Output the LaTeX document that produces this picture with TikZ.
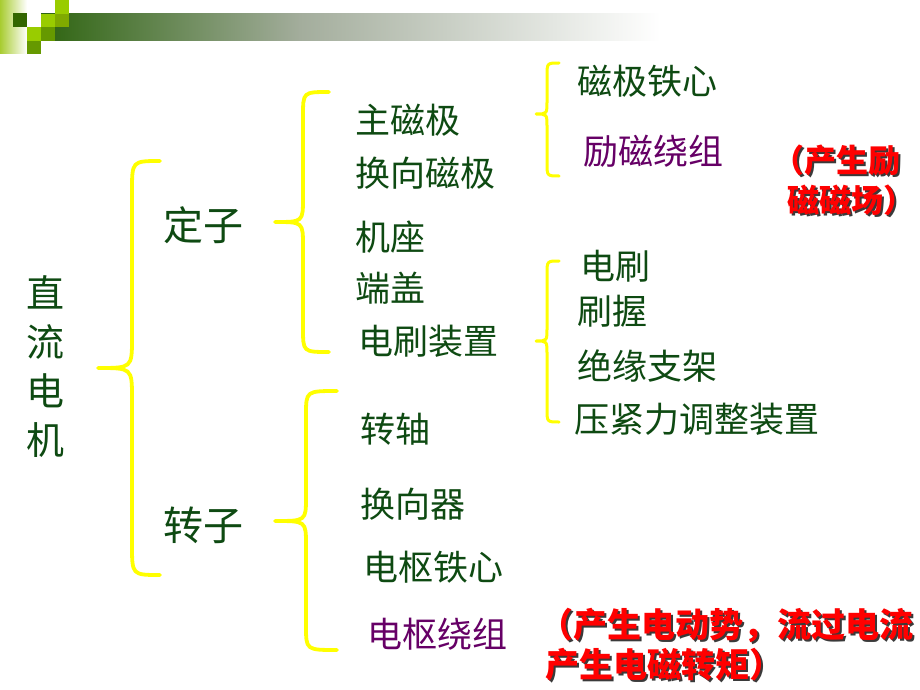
\documentclass[tikz,border=0pt]{standalone}
\usepackage{fontspec}
\setmainfont{Noto Sans CJK SC}
\definecolor{tgreen}{HTML}{0E4A12}
\definecolor{tpurple}{HTML}{660066}
\definecolor{tred}{HTML}{FF0000}
\definecolor{shadowc}{HTML}{3A3A3A}
\definecolor{braceyellow}{HTML}{FFFF00}
\definecolor{hdrA}{HTML}{2E6410}
\definecolor{hdrB}{HTML}{A3AD9C}
\definecolor{lgreen}{HTML}{A8CC30}
\definecolor{sqbright}{HTML}{99CC00}
\definecolor{sqolive}{HTML}{669900}
\definecolor{sqmid}{HTML}{80AA00}
\definecolor{sqdark}{HTML}{336600}
\newcommand{\shtext}[1]{\makebox[0pt][l]{\hspace{2pt}\raisebox{-2pt}{\textcolor{shadowc}{#1}}}\textcolor{tred}{#1}}
\newcommand{\ybrace}[8][brace]{\draw[#1] (#2,#5) .. controls (#3,#5) .. (#3,{#5+#8}) -- (#3,{#6-#8}) .. controls (#3,#6) .. (#4,#6) .. controls (#3,#6) .. (#3,{#6+#8}) -- (#3,{#7-#8}) .. controls (#3,#7) .. (#2,#7);}
\begin{document}
\begin{tikzpicture}[x=1pt,y=-1pt,
  item/.style={anchor=base west, inner sep=0pt, text=tgreen, font=\fontsize{35}{42}\selectfont},
  pitem/.style={item, text=tpurple},
  bigitem/.style={anchor=base west, inner sep=0pt, text=tgreen, font=\fontsize{40}{48}\selectfont},
  vchar/.style={anchor=base, inner sep=0pt, text=tgreen, font=\fontsize{38}{46}\selectfont},
  note/.style={anchor=base west, inner sep=0pt, font=\bfseries\fontsize{32}{38}\selectfont},
  bignote/.style={note, font=\bfseries\fontsize{34}{40}\selectfont},
  brace/.style={draw=braceyellow, line width=3.8pt, line cap=round, line join=round},
  sbrace/.style={brace, line width=3pt}]
\useasboundingbox (0,0) rectangle (920,690);
\clip (0,0) rectangle (920,690);
\fill[white] (0,0) rectangle (920,690);
% header decoration
\fill[left color=lgreen, right color=white] (0,0) rectangle (27,54);
\fill[left color=hdrA, right color=hdrB] (41,13.5) rectangle (300,41);
\fill[left color=hdrB, right color=white] (299.5,13.5) rectangle (660,41);
\fill[sqbright] (55,0) rectangle (69,14);
\fill[sqdark] (13,13) rectangle (27,27);
\fill[sqbright] (41,14) rectangle (55,27);
\fill[sqmid] (55,14) rectangle (69,27);
\fill[sqbright] (27,27) rectangle (41,41);
\fill[sqolive] (41,27) rectangle (55,41);
\fill[sqolive] (27,41) rectangle (41,54);
% braces
\ybrace{160}{132}{98}{161}{368}{575}{30}
\ybrace{329}{303}{275}{92}{222}{352}{24}
\ybrace{337}{306}{275}{391}{521}{650}{24}
\ybrace[sbrace]{559}{547}{536}{63}{114}{176}{13}
\ybrace[sbrace]{559}{547}{536}{261}{341}{422}{13}
% vertical title
\node[vchar] (v1) at (45,307) {直};
\node[vchar] (v2) at (45,356) {流};
\node[vchar] (v3) at (45,405) {电};
\node[vchar] (v4) at (45,454) {机};
% level 2
\node[bigitem] (stator) at (163,240) {定子};
\node[bigitem] (rotor) at (163,540) {转子};
% stator parts
\node[item] (s1) at (355,133) {主磁极};
\node[item] (s2) at (355,186) {换向磁极};
\node[item] (s3) at (355,250) {机座};
\node[item] (s4) at (355,301) {端盖};
\node[item] (s5) at (358,354) {电刷装置};
% main pole parts
\node[item] (m1) at (577,95) {磁极铁心};
\node[pitem] (m2) at (583,164) {励磁绕组};
% brush parts
\node[item] (b1) at (580,279) {电刷};
\node[item] (b2) at (577,324) {刷握};
\node[item] (b3) at (577,379) {绝缘支架};
\node[item] (b4) at (574,432) {压紧力调整装置};
% rotor parts
\node[item] (r1) at (360,442) {转轴};
\node[item] (r2) at (360,517) {换向器};
\node[item] (r3) at (363,580) {电枢铁心};
\node[pitem] (r4) at (367,647) {电枢绕组};
% notes
\node[note] (n1a) at (772,172) {\shtext{（产生励}};
\node[note] (n1b) at (787,212) {\shtext{磁磁场）}};
\node[bignote] (n2a) at (539,637) {\shtext{（产生电动势，流过电流}};
\node[bignote] (n2b) at (545,677) {\shtext{产生电磁转矩）}};
\end{tikzpicture}
\end{document}
